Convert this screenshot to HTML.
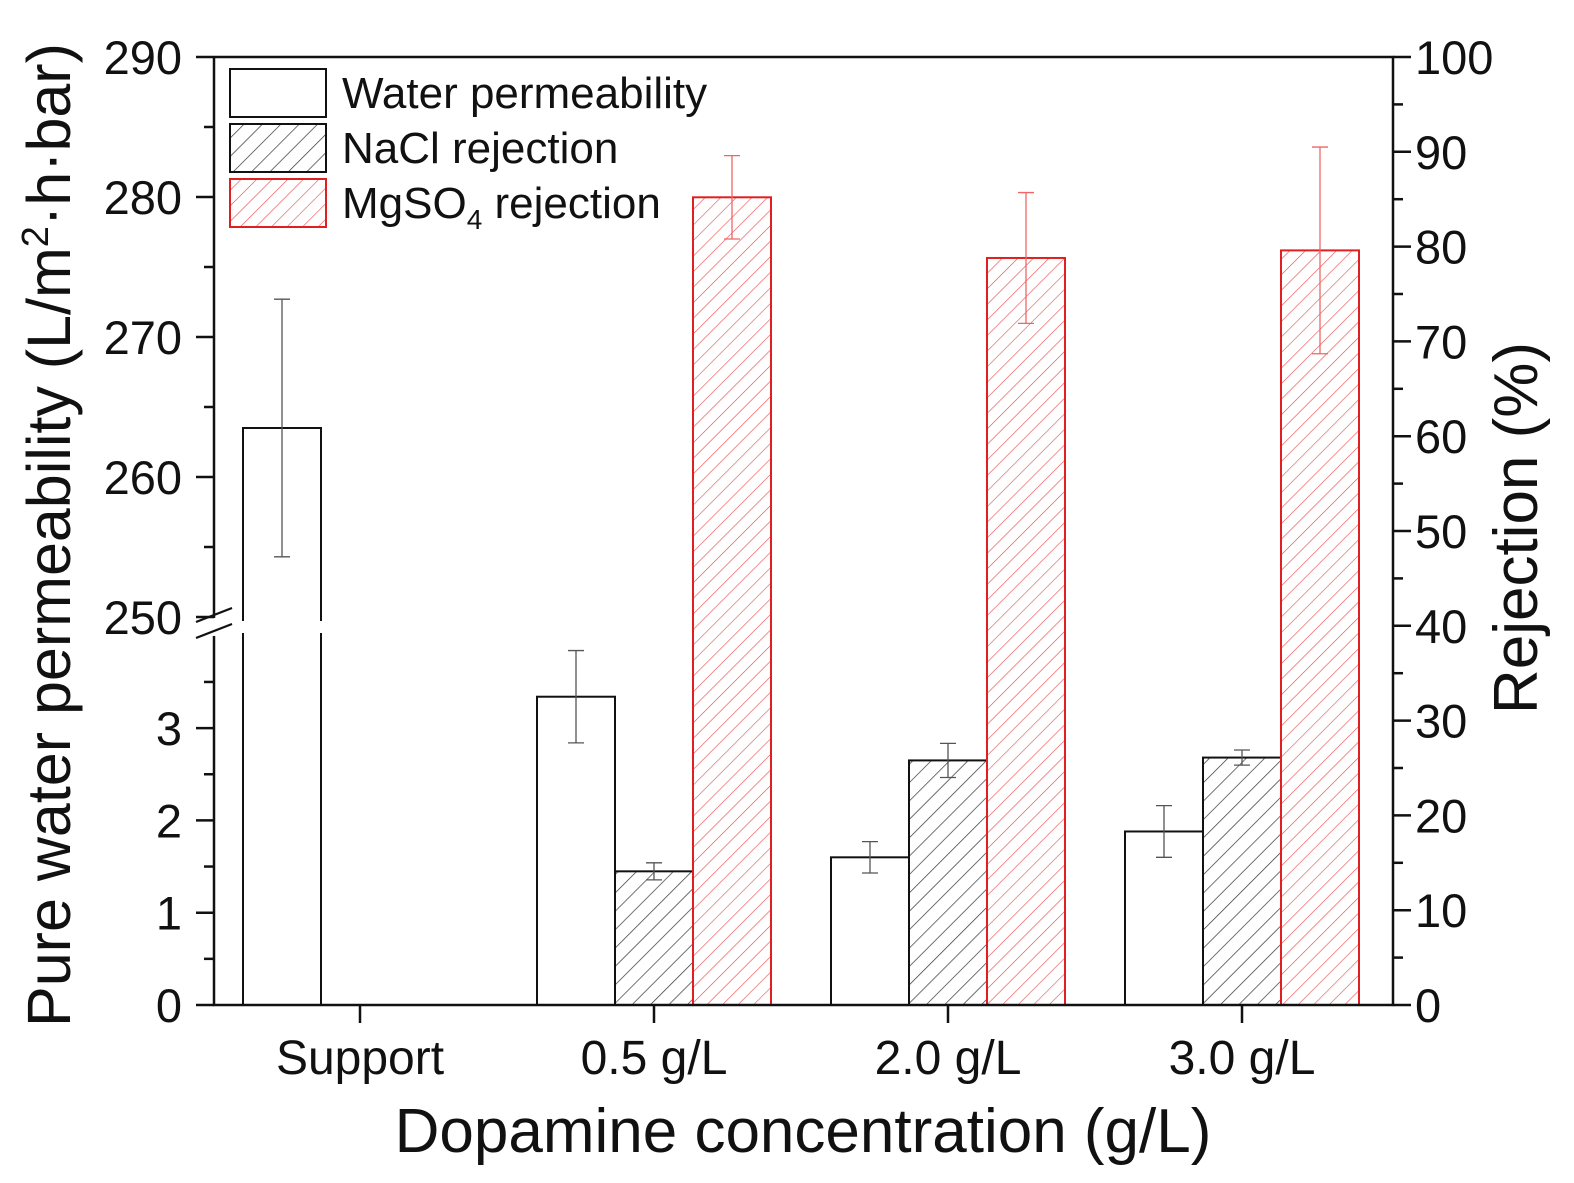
<!DOCTYPE html>
<html><head><meta charset="utf-8"><style>
html,body{margin:0;padding:0;background:#fff;}
svg{display:block;font-family:"Liberation Sans",Arial,sans-serif;}
</style></head><body>
<svg id="chart" width="1574" height="1183" viewBox="0 0 1574 1183" xmlns="http://www.w3.org/2000/svg">
<defs>
<pattern id="hatchBlack" patternUnits="userSpaceOnUse" width="13" height="13" patternTransform="rotate(45)">
<line x1="0" y1="0" x2="0" y2="13" stroke="#333" stroke-width="1.4"/></pattern>
<pattern id="hatchRed" patternUnits="userSpaceOnUse" width="11" height="11" patternTransform="rotate(45)">
<line x1="0" y1="0" x2="0" y2="11" stroke="#e64a4a" stroke-width="1.2"/></pattern>
</defs>
<g id="plot"></g>
<text x="803" y="1152" font-size="62" text-anchor="middle" fill="#111">Dopamine concentration (g/L)</text>
<text transform="translate(70,535) rotate(-90)" font-size="61" text-anchor="middle" fill="#111">Pure water permeability (L/m<tspan font-size="38" dy="-22">2</tspan><tspan dy="22">·h·bar)</tspan></text>
<text transform="translate(1537,528) rotate(-90)" font-size="62" text-anchor="middle" fill="#111">Rejection (%)</text>
<g font-size="44" fill="#111">
<rect x="230" y="69" width="96" height="48" fill="#fff" stroke="#111" stroke-width="2"/>
<text x="342" y="108">Water permeability</text>
<rect x="230" y="124" width="96" height="48" fill="url(#hatchBlack)" stroke="#111" stroke-width="2"/>
<text x="342" y="163">NaCl rejection</text>
<rect x="230" y="179" width="96" height="48" fill="url(#hatchRed)" stroke="#e02020" stroke-width="2"/>
<text x="342" y="218">MgSO<tspan font-size="28" dy="11">4</tspan><tspan dy="-11"> rejection</tspan></text>
</g>
</svg>
<script>
const categories = ["Support","0.5 g/L","2.0 g/L","3.0 g/L"];
const waterPerm = [263.5, 3.34, 1.60, 1.88];
const waterErr = [9.2, 0.5, 0.17, 0.28];
const naclRej = [null, 14.1, 25.8, 26.1];
const naclErr = [null, 0.9, 1.8, 0.8];
const mgso4Rej = [null, 85.2, 78.8, 79.6];
const mgso4Err = [null, 4.4, 6.9, 10.9];
const leftLowTicks = [0,1,2,3];
const leftHighTicks = [250,260,270,280,290];
const rightTicks = [0,10,20,30,40,50,60,70,80,90,100];

const NS="http://www.w3.org/2000/svg";
const g=document.getElementById('plot');
function el(t,a,txt){const e=document.createElementNS(NS,t);for(const k in a)e.setAttribute(k,a[k]);if(txt!==undefined)e.textContent=txt;g.appendChild(e);return e;}
const L=214,R=1393,T=57,B=1005;
function yLeft(v){ if(v<100) return B-v*92.3; return 617-(v-250)*14; }
function yRight(v){ return B-v*(B-T)/100; }
const xc=[360,654,948,1242]; const bw=78;
function xCat(i){return xc[i];}

categories.forEach((c,i)=>{
  const cx=xCat(i);
  const wx=cx-bw*1.5, wy=yLeft(waterPerm[i]);
  let b=el('rect',{x:wx,y:wy,width:bw,height:B-wy,fill:'#fff',stroke:'#111','stroke-width':2});
  
  
  let e=el('path',{d:`M${wx+bw/2},${yLeft(waterPerm[i]+waterErr[i])}V${yLeft(waterPerm[i]-waterErr[i])}M${wx+bw/2-8},${yLeft(waterPerm[i]+waterErr[i])}h16M${wx+bw/2-8},${yLeft(waterPerm[i]-waterErr[i])}h16`,stroke:'#555','stroke-width':1.3,fill:'none'});
  
  
  if(naclRej[i]!==null){
    const nx=cx-bw/2, ny=yRight(naclRej[i]);
    b=el('rect',{x:nx,y:ny,width:bw,height:B-ny,fill:'url(#hatchBlack)',stroke:'#111','stroke-width':2});
    
    
    const t=yRight(naclRej[i]+naclErr[i]),bt=yRight(naclRej[i]-naclErr[i]);
    e=el('path',{d:`M${nx+bw/2},${t}V${bt}M${nx+bw/2-8},${t}h16M${nx+bw/2-8},${bt}h16`,stroke:'#555','stroke-width':1.3,fill:'none'});
    
    
  }
  if(mgso4Rej[i]!==null){
    const mx=cx+bw/2, my=yRight(mgso4Rej[i]);
    b=el('rect',{x:mx,y:my,width:bw,height:B-my,fill:'url(#hatchRed)',stroke:'#e02020','stroke-width':2});
    
    
    const t=yRight(mgso4Rej[i]+mgso4Err[i]),bt=yRight(mgso4Rej[i]-mgso4Err[i]);
    e=el('path',{d:`M${mx+bw/2},${t}V${bt}M${mx+bw/2-8},${t}h16M${mx+bw/2-8},${bt}h16`,stroke:'#ee6666','stroke-width':1.3,fill:'none'});
    
    
  }
});
el('rect',{x:236,y:621,width:92,height:12,fill:'#fff'});
let f=el('path',{d:`M${L},${T}V618M${L},636V${B}H${R}V${T}H${L}`,stroke:'#111','stroke-width':2.5,fill:'none'});


el('path',{d:'M196,622L232,608M196,638L232,624',stroke:'#111','stroke-width':2.2});
leftLowTicks.forEach(v=>{const y=yLeft(v);el('line',{x1:L-18,x2:L,y1:y,y2:y,stroke:'#111','stroke-width':2.5});
 const t=el('text',{x:L-32,y:y+17,'font-size':47,'text-anchor':'end',fill:'#111'},String(v));
 
 
 const ym=yLeft(v+0.5); if(ym>640) el('line',{x1:L-10,x2:L,y1:ym,y2:ym,stroke:'#111','stroke-width':2.5});});
leftHighTicks.forEach(v=>{const y=yLeft(v);el('line',{x1:L-18,x2:L,y1:y,y2:y,stroke:'#111','stroke-width':2.5});
 const t=el('text',{x:L-32,y:y+17,'font-size':47,'text-anchor':'end',fill:'#111'},String(v));
 
 
 if(v<290){const ym=yLeft(v+5);el('line',{x1:L-10,x2:L,y1:ym,y2:ym,stroke:'#111','stroke-width':2.5});}});
rightTicks.forEach(v=>{const y=yRight(v);el('line',{x1:R,x2:R+18,y1:y,y2:y,stroke:'#111','stroke-width':2.5});
 const t=el('text',{x:R+22,y:y+17,'font-size':47,fill:'#111'},String(v));
 
 
 if(v<100){const ym=yRight(v+5);el('line',{x1:R,x2:R+10,y1:ym,y2:ym,stroke:'#111','stroke-width':2.5});}});
categories.forEach((c,i)=>{const x=xCat(i);el('line',{x1:x,x2:x,y1:B,y2:B+18,stroke:'#111','stroke-width':2.5});
 const t=el('text',{x:x,y:1074,'font-size':48,'text-anchor':'middle',fill:'#111'},c);
 
 });
</script>
</body></html>
